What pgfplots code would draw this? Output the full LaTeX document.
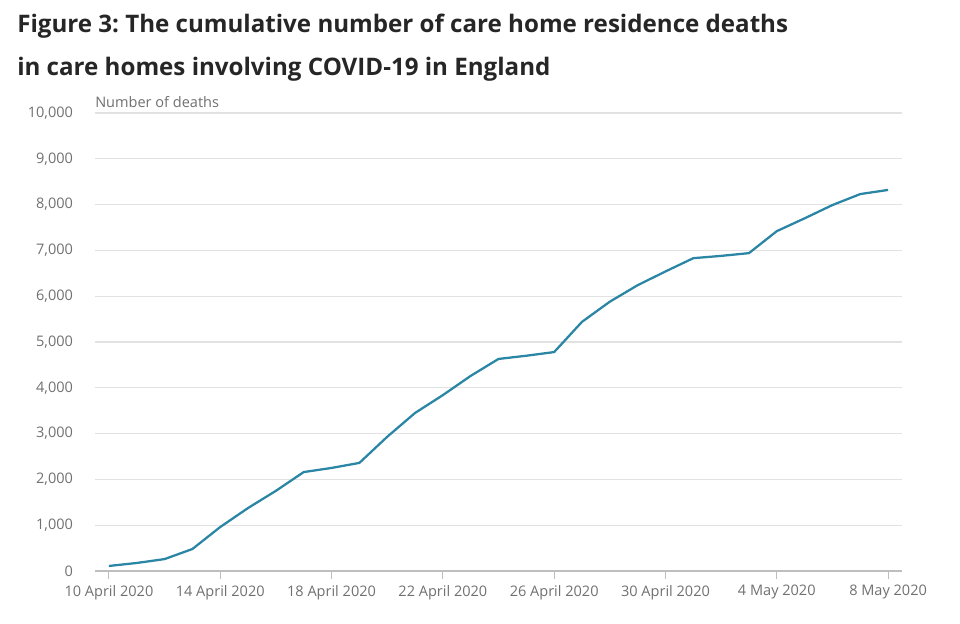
\documentclass[border=0pt]{standalone}
\usepackage{pgfplots}
\pgfplotsset{compat=1.18}
\usepackage{fontspec}
\setmainfont{Open Sans}
\frenchspacing
\definecolor{serie}{RGB}{42,134,164}
\definecolor{ticktext}{RGB}{112,112,112}
\definecolor{gridc}{RGB}{226,226,226}
\definecolor{axisc}{RGB}{190,190,190}
\begin{document}
\begin{tikzpicture}[x=0.75pt,y=0.75pt]
\path[use as bounding box] (0,0) rectangle (960,624);
\node[anchor=base west, inner sep=0pt, font=\bfseries\fontsize{18.1}{22}\selectfont, text=black!85] at (17,591) {Figure 3: The cumulative number of care home residence deaths};
\node[anchor=base west, inner sep=0pt, font=\bfseries\fontsize{18.1}{22}\selectfont, text=black!85] at (17,548) {in care homes involving COVID-19 in England};
\begin{axis}[
  at={(71.25pt,39.75pt)}, anchor=south west,
  width=605.25pt, height=343.5pt, scale only axis,
  xmin=-0.5, xmax=28.5, ymin=0, ymax=10000,
  axis x line*=bottom, axis y line*=left,
  x axis line style={draw=axisc, line width=0.8pt},
  y axis line style={draw=none},
  ytick={0,1000,...,10000},
  xtick={0,4,8,12,16,20,24,28},
  xticklabels={10 April 2020,14 April 2020,18 April 2020,22 April 2020,26 April 2020,30 April 2020,4 May 2020,8 May 2020},
  scaled y ticks=false,
  /pgf/number format/.cd, 1000 sep={,}, assume math mode=true, /pgfplots/.cd,
  ymajorgrids, major grid style={draw=gridc, line width=0.8pt},
  ytick style={draw=none},
  xtick style={draw=axisc, line width=0.8pt},
  tick align=outside, major tick length=6pt,
  ticklabel style={font=\fontsize{10.9}{12}\selectfont, text=ticktext},
  yticklabel style={xshift=-7pt},
  xticklabel style={yshift=-1pt},
  clip=false,
]
\addplot[serie, line width=1.7pt, line join=round] coordinates {
(0,110) (1,175) (2,260) (3,480) (4,960) (5,1375) (6,1750) (7,2160) (8,2250) (9,2360)
(10,2930) (11,3450) (12,3840) (13,4260) (14,4630) (15,4700) (16,4780) (17,5440) (18,5880) (19,6240)
(20,6540) (21,6830) (22,6880) (23,6940) (24,7420) (25,7700) (26,7990) (27,8230) (28,8320)
};
\end{axis}
\node[anchor=base west, inner sep=0pt, font=\fontsize{10.9}{12}\selectfont, text=ticktext] at (95,516) {Number of deaths};
\end{tikzpicture}
\end{document}
